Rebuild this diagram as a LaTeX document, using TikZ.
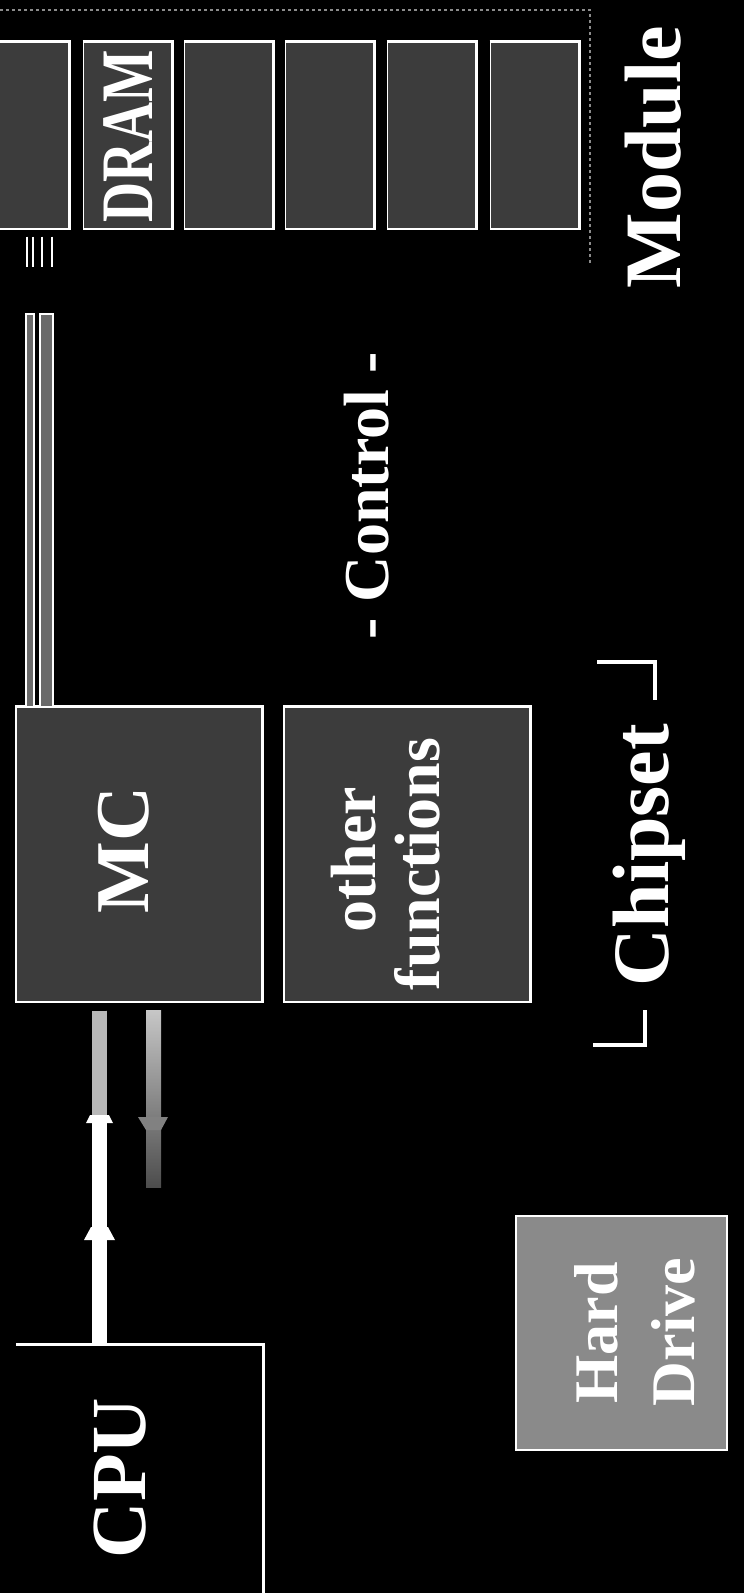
\documentclass[tikz,border=0pt]{standalone}
\usepackage{fontspec}
\setmainfont{Liberation Serif}
\usetikzlibrary{calc}
\definecolor{chipgray}{HTML}{3C3C3C}
\definecolor{hdgray}{HTML}{8A8A8A}
\definecolor{busfill}{HTML}{6A6A6A}
\definecolor{modline}{HTML}{8C8C8C}
\definecolor{arrowgray}{HTML}{B8B8B8}
\begin{document}
\begin{tikzpicture}[x=1pt,y=-1pt,
  chip/.style={fill=chipgray, draw=white, line width=1.2pt, inner sep=0pt,
    minimum width=88.5pt, minimum height=187pt},
  fbox/.style={fill=chipgray, draw=white, line width=1.2pt, inner sep=0pt,
    minimum width=246pt, minimum height=295pt},
  hilite/.style={white, line width=3pt},
  lbl/.style={text=white, inner sep=0pt, rotate=90, anchor=base},
  bigbf/.style={font=\bfseries\fontsize{#1}{#1}\selectfont}
]
\useasboundingbox (0,0) rectangle (744,1593);
\clip (0,0) rectangle (744,1593);
\fill[black] (0,0) rectangle (744,1593);

% module outline
\draw[modline, dashed, line width=1.5pt] (0,10) -- (590,10) -- (590,265);

% DRAM chips
\foreach \i/\cx in {1/25,2/127.5,3/229,4/330,5/431.5,6/534.5}{
  \node[chip] (d\i) at (\cx,135.5) {};
  \draw[hilite] (d\i.north west) -- (d\i.north east) -- (d\i.south east);
}

% chipset boxes
\node[fbox] (mc) at (139,854.5) {};
\draw[hilite] (mc.north west) -- (mc.north east) -- (mc.south east);
\node[fbox] (oth) at (407,854.5) {};
\draw[hilite] (oth.north west) -- (oth.north east) -- (oth.south east);

% hard drive
\node[fill=hdgray, draw=white, line width=1.2pt, inner sep=0pt,
  minimum width=211pt, minimum height=234pt] (hd) at (621.5,1333) {};

% CPU box (runs off the page)
\node[inner sep=0pt, minimum width=247pt, minimum height=280pt] (cpu) at (139.5,1485) {};
\draw[hilite] (cpu.north west) -- (cpu.north east) -- (cpu.south east);

% memory bus MC -> DRAM
\foreach \x in {27,33,42,52}
  \draw[white, line width=1.4pt] ($(\x,0 |- d1.south)+(0,7)$) -- ++(0,30);
\draw[white, line width=1.2pt, fill=busfill] (26,314) rectangle (34,0 |- mc.north);
\draw[white, line width=1.2pt, fill=busfill] (40,314) rectangle (53,0 |- mc.north);

% CPU <-> MC connectors
\draw[white, line width=15pt] ($(mc.south)+(-39.5,8)$) -- ($(cpu.north)+(-40,0)$);
\draw[arrowgray, line width=15pt] ($(mc.south)+(-39.5,8)$) -- ++(0,105);
\fill[white] (90,1115) -- (109,1115) -- (113,1123) -- (86,1123) -- cycle;
\fill[white] (91,1227) -- (108,1227) -- (115,1240) -- (84,1240) -- cycle;
\shade[top color=arrowgray!80!white, bottom color=black!70!white]
  ($(mc.south)+(7,8)$) rectangle ($(mc.south)+(22,185)$);
\fill[arrowgray!70!black] (138,1117) -- (168,1117) -- (161,1130) -- (146,1130) -- cycle;

% chipset brackets
\draw[white, line width=4pt] (597,662) -- (655,662) -- (655,700);
\draw[white, line width=4pt] (645,1010) -- (645,1045) -- (593,1045);

% labels
\node[lbl, bigbf=74] (draml) at (152,136) {\scalebox{0.75}[1]{DRAM}};
\node[lbl, bigbf=80] (modl) at (680,157) {Module};
\node[lbl, bigbf=64] (ctll) at (388,496) {- Control -};
\node[lbl, bigbf=76] (mcl) at (148,850) {MC};
\node[lbl, bigbf=64] (oth1) at (375,860) {other};
\node[lbl, bigbf=64] (oth2) at (439,864) {functions};
\node[lbl, bigbf=80] (chipl) at (668,855) {Chipset};
\node[lbl, bigbf=78] (cpul) at (145,1478) {CPU};
\node[lbl, bigbf=62] (hd1) at (617,1333) {Hard};
\node[lbl, bigbf=62] (hd2) at (694,1332) {Drive};
\end{tikzpicture}
\end{document}
